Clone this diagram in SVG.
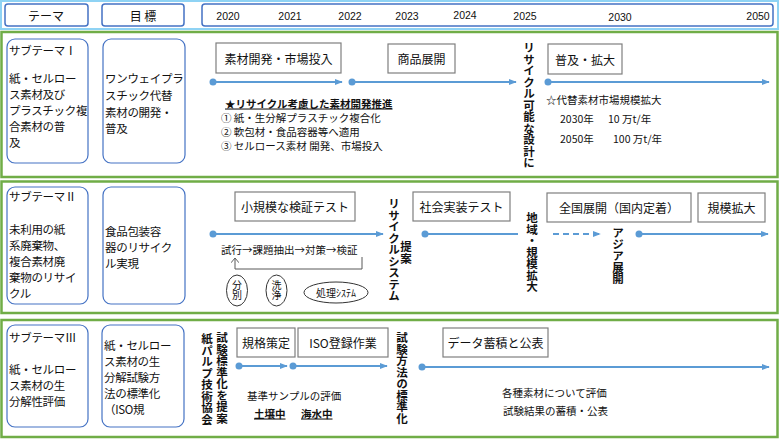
<svg xmlns="http://www.w3.org/2000/svg" width="780" height="440" viewBox="0 0 780 440">
<defs>
<marker id="ah" viewBox="0 0 10 10" refX="9" refY="5" markerWidth="4" markerHeight="4" orient="auto" markerUnits="strokeWidth">
<path d="M0,1 L10,5 L0,9 Z" fill="#5b9bd5"/>
</marker>
<marker id="oh" viewBox="0 0 10 10" refX="5" refY="1" markerWidth="8" markerHeight="8" orient="0" markerUnits="userSpaceOnUse">
<path d="M0,7 L5,1 L10,7" fill="none" stroke="#595959" stroke-width="1.2"/>
</marker>
</defs>
<style>
text{font-family:"Noto Sans CJK JP","Noto Sans",sans-serif;fill:#111;dominant-baseline:central}
.hb{fill:#fff;stroke:#4472c4;stroke-width:1.5}
.row{fill:#fff;stroke:#70ad47;stroke-width:2.5}
.nb{fill:#fff;stroke:#4472c4;stroke-width:1.2}
.gb{fill:#fff;stroke:#7f7f7f;stroke-width:1.2}
.nt{font-size:11.5px;letter-spacing:-0.3px}
.bt{font-size:12px;text-anchor:middle}
.yr{font-size:10.5px;text-anchor:middle;font-family:"Liberation Sans","Noto Sans",sans-serif}
.sm{font-size:10.5px}
.vt{font-size:11.5px;font-weight:bold;writing-mode:vertical-rl;text-orientation:upright}
.vo{font-size:10px;writing-mode:vertical-rl;text-orientation:upright}
.ar{stroke:#5b9bd5;stroke-width:2;fill:none;marker-end:url(#ah)}
.ln{stroke:#5b9bd5;stroke-width:2;fill:none}
.dt{fill:#5b9bd5}
.ov{fill:#fff;stroke:#333;stroke-width:1}
</style>

<g id="header">
<rect x="1" y="1" width="777" height="28" fill="#fff" stroke="#8fd3f4" stroke-width="2"/>
<rect class="hb" x="5" y="4" width="83" height="22" rx="3"/>
<text x="46" y="15" font-size="12" text-anchor="middle">テーマ</text>
<rect class="hb" x="102" y="4" width="82" height="22" rx="3"/>
<text x="143" y="15" font-size="12" text-anchor="middle">目 標</text>
<rect class="hb" x="202" y="4" width="571" height="22" rx="3"/>
<text class="yr" x="228" y="16">2020</text>
<text class="yr" x="290" y="16">2021</text>
<text class="yr" x="350" y="16">2022</text>
<text class="yr" x="407" y="16">2023</text>
<text class="yr" x="465" y="15">2024</text>
<text class="yr" x="525" y="16">2025</text>
<text class="yr" x="620" y="17">2030</text>
<text class="yr" x="758" y="16">2050</text>
</g>

<g id="rows">
<rect class="row" x="1.5" y="32" width="776" height="145"/>
<rect class="row" x="1.5" y="181.5" width="776" height="131.5"/>
<rect class="row" x="1.5" y="320" width="776" height="117"/>
</g>

<g id="theme1">
<rect class="nb" x="7" y="39" width="81" height="124" rx="8"/>
<text class="nt" x="9" y="50">サブテーマⅠ</text>
<text class="nt" x="9" y="78">紙・セルロー</text>
<text class="nt" x="9" y="94">ス素材及び</text>
<text class="nt" x="9" y="110">プラスチック複</text>
<text class="nt" x="9" y="126">合素材の普</text>
<text class="nt" x="9" y="142">及</text>
</g>
<g id="goal1">
<rect class="nb" x="103" y="39" width="82" height="124" rx="8"/>
<text class="nt" x="105" y="78">ワンウェイプラ</text>
<text class="nt" x="105" y="95">スチック代替</text>
<text class="nt" x="105" y="112">素材の開発・</text>
<text class="nt" x="105" y="128">普及</text>
</g>
<g id="b1a">
<rect class="gb" x="216" y="43" width="125" height="30"/>
<text class="bt" x="278.5" y="58">素材開発・市場投入</text>
</g>
<g id="b1b">
<rect class="gb" x="388" y="44" width="67" height="29"/>
<text class="bt" x="421.5" y="58">商品展開</text>
</g>
<g id="notes1">
<text class="sm" x="225" y="103" font-weight="bold" text-decoration="underline">★リサイクル考慮した素材開発推進</text>
<text class="sm" x="221" y="117">① 紙・生分解プラスチック複合化</text>
<text class="sm" x="221" y="131">② 軟包材・食品容器等へ適用</text>
<text class="sm" x="221" y="145">③ セルロース素材 開発、市場投入</text>
</g>
<g id="v1">
<text class="vt" x="529" y="42">リサイクル可能な設計に</text>
</g>
<g id="b1c">
<rect class="gb" x="548" y="44" width="74" height="30"/>
<text class="bt" x="585" y="59">普及・拡大</text>
</g>
<g id="notes1b">
<text class="sm" x="546" y="99">☆代替素材市場規模拡大</text>
<text class="sm" x="560" y="118">2030年</text>
<text class="sm" x="608" y="118">10 万t/年</text>
<text class="sm" x="560" y="138">2050年</text>
<text class="sm" x="613" y="138">100 万t/年</text>
</g>

<g id="theme2">
<rect class="nb" x="7" y="187" width="81" height="117" rx="8"/>
<text class="nt" x="9" y="196">サブテーマⅡ</text>
<text class="nt" x="9" y="229">未利用の紙</text>
<text class="nt" x="9" y="245">系廃棄物、</text>
<text class="nt" x="9" y="261">複合素材廃</text>
<text class="nt" x="9" y="277">棄物のリサイ</text>
<text class="nt" x="9" y="293">クル</text>
</g>
<g id="goal2">
<rect class="nb" x="103" y="187" width="82" height="117" rx="8"/>
<text class="nt" x="105" y="231">食品包装容</text>
<text class="nt" x="105" y="247">器のリサイク</text>
<text class="nt" x="105" y="263">ル実現</text>
</g>
<g id="b2a">
<rect class="gb" x="235" y="192" width="120" height="29"/>
<text class="bt" x="295" y="206">小規模な検証テスト</text>
</g>
<g id="cycle2">
<text class="sm" x="221" y="249">試行→課題抽出→対策→検証</text>
<ellipse class="ov" cx="237" cy="290.5" rx="10.5" ry="15.5"/>
<text class="vo" x="237" y="280">分別</text>
<ellipse class="ov" cx="276.5" cy="290.5" rx="10.5" ry="15.5"/>
<text class="vo" x="276.5" y="280">洗浄</text>
<ellipse class="ov" cx="336" cy="292.5" rx="32" ry="10.5"/>
<text x="336" y="292.5" font-size="10" text-anchor="middle">処理ｼｽﾃﾑ</text>
</g>
<g id="v2">
<text class="vt" x="394" y="198">リサイクルシステム</text>
<text class="vt" x="406" y="241">提案</text>
</g>
<g id="b2b">
<rect class="gb" x="413" y="192" width="97" height="29"/>
<text class="bt" x="461.5" y="206">社会実装テスト</text>
</g>
<g id="v2b">
<text class="vt" x="532" y="212">地域・規模拡大</text>
</g>
<g id="b2c">
<rect class="gb" x="547" y="193" width="144" height="29"/>
<text class="bt" x="619" y="207">全国展開（国内定着）</text>
</g>
<g id="b2d">
<rect class="gb" x="698" y="193" width="67" height="29"/>
<text class="bt" x="731.5" y="207">規模拡大</text>
</g>
<g id="v2c">
<text class="vt" x="618" y="227">アジア展開</text>
</g>

<g id="theme3">
<rect class="nb" x="7" y="325" width="81" height="102" rx="8"/>
<text class="nt" x="9" y="337">サブテーマⅢ</text>
<text class="nt" x="9" y="369">紙・セルロー</text>
<text class="nt" x="9" y="385">ス素材の生</text>
<text class="nt" x="9" y="401">分解性評価</text>
</g>
<g id="goal3">
<rect class="nb" x="102" y="325" width="82" height="102" rx="8"/>
<text class="nt" x="104" y="345">紙・セルロー</text>
<text class="nt" x="104" y="361">ス素材の生</text>
<text class="nt" x="104" y="377">分解試験方</text>
<text class="nt" x="104" y="393">法の標準化</text>
<text class="nt" x="104" y="409">（ISO規</text>
</g>
<g id="v3a">
<text class="vt" x="207" y="333">紙パルプ技術協会</text>
<text class="vt" x="222" y="332">試験標準化を提案</text>
</g>
<g id="b3a">
<rect class="gb" x="237" y="328" width="58" height="29"/>
<text class="bt" x="266" y="342">規格策定</text>
</g>
<g id="b3b">
<rect class="gb" x="298" y="328" width="90" height="29"/>
<text class="bt" x="343" y="342">ISO登録作業</text>
</g>
<g id="notes3">
<text class="sm" x="247" y="395">基準サンプルの評価</text>
<text class="sm" x="254" y="413" font-weight="bold" text-decoration="underline">土壌中</text>
<text class="sm" x="301" y="413" font-weight="bold" text-decoration="underline">海水中</text>
</g>
<g id="v3b">
<text class="vt" x="402" y="332">試験方法の標準化</text>
</g>
<g id="b3c">
<rect class="gb" x="443" y="328" width="105" height="29"/>
<text class="bt" x="495.5" y="342">データ蓄積と公表</text>
</g>
<g id="notes3b">
<text class="sm" x="502" y="392">各種素材について評価</text>
<text class="sm" x="503" y="410">試験結果の蓄積・公表</text>
</g>

<g id="connectors">
<line class="ar" x1="213" y1="82" x2="342" y2="82"/><circle class="dt" cx="213" cy="82" r="3.5"/>
<line class="ar" x1="352" y1="82" x2="516" y2="82"/><circle class="dt" cx="352" cy="82" r="3.5"/>
<line class="ar" x1="548" y1="82" x2="769" y2="82"/><circle class="dt" cx="548" cy="82" r="3.5"/>
<line class="ar" x1="213" y1="234" x2="383" y2="234"/><circle class="dt" cx="213" cy="234" r="3.5"/>
<line class="ln" x1="425" y1="234" x2="518" y2="234"/><circle class="dt" cx="425" cy="234" r="3.5"/>
<line class="ar" x1="553" y1="234" x2="600" y2="234" stroke-dasharray="6,4"/>
<line class="ar" x1="639" y1="234" x2="768" y2="234"/><circle class="dt" cx="639" cy="234" r="3.5"/>
<polyline points="362,257 362,269 235,269 235,258" fill="none" stroke="#595959" stroke-width="1" marker-end="url(#oh)"/>
<line class="ar" x1="239" y1="366" x2="287" y2="366"/><circle class="dt" cx="239" cy="366" r="3.5"/>
<line class="ar" x1="293" y1="366" x2="387" y2="366"/><circle class="dt" cx="293" cy="366" r="3.5"/>
<line class="ar" x1="422" y1="367" x2="769" y2="367"/><circle class="dt" cx="422" cy="367" r="3.5"/>
</g>
</svg>
